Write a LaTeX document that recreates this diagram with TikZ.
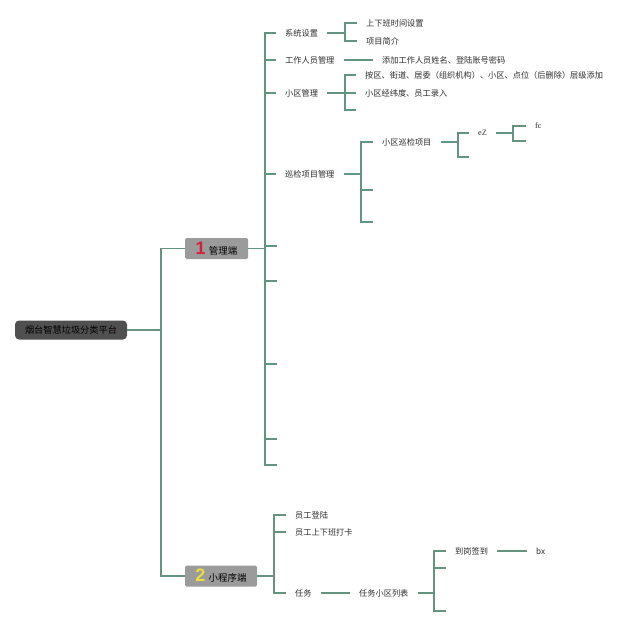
\documentclass[tikz,border=0pt]{standalone}
\usepackage{fontspec}
\newfontfamily\cjk{Noto Sans CJK SC}
\newfontfamily\numfont{Liberation Sans}
\newfontfamily\latinserif{Liberation Serif}
\definecolor{linkcolor}{RGB}{98,148,128}
\definecolor{rootfill}{RGB}{80,80,80}
\definecolor{boxfill}{RGB}{155,155,155}
\definecolor{txtcolor}{RGB}{45,45,45}
\definecolor{numred}{RGB}{215,30,60}
\definecolor{numyellow}{RGB}{238,222,60}

\begin{document}
\begin{tikzpicture}[x=1pt,y=-1pt,
  link/.style={linkcolor,line width=1.2pt},
  leaf/.style={anchor=west,inner xsep=9pt,inner ysep=1pt,text=txtcolor,font=\cjk\fontsize{8.2}{10}\selectfont},
  hub/.style={fill=boxfill,rounded corners=1.5pt,minimum height=21pt,inner sep=0pt,text=black,font=\cjk\fontsize{9.5}{11}\selectfont},
  rootbox/.style={fill=rootfill,rounded corners=4pt,minimum width=112pt,minimum height=19pt,inner sep=0pt,text=black,font=\cjk\fontsize{9.2}{11}\selectfont}]
  \useasboundingbox[fill=white] (0,0) rectangle (640,626);
  \node[rootbox] (root) at (71,330) {烟台智慧垃圾分类平台};
  \node[hub,minimum width=63pt] (mgr) at (216.5,248.5)
    {{\numfont\bfseries\fontsize{18}{18}\selectfont\color{numred}1}\hspace{3pt}管理端};
  \node[hub,minimum width=72pt] (app) at (221,576)
    {{\numfont\bfseries\fontsize{18}{18}\selectfont\color{numyellow}2}\hspace{3pt}小程序端};
  \coordinate (b0) at (161,330);
  \draw[link] (root.east) -- (b0);
  \foreach \c in {mgr,app} \draw[link] (b0) |- (\c.west);

  % 管理端
  \coordinate (b1) at (265,248.5);
  \draw[link] (mgr.east) -- (b1);
  \node[leaf] (sys) at (276,33) {系统设置};
  \node[leaf] (staff) at (276,60) {工作人员管理};
  \node[leaf] (area) at (276,93) {小区管理};
  \node[leaf] (patrol) at (276,174) {巡检项目管理};
  \foreach \c/\y in {m5/246,m6/281,m7/364,m8/439,m9/465} \coordinate (\c) at (277,\y);
  \foreach \c in {sys,staff,area,patrol} \draw[link] (b1) |- (\c.west);
  \foreach \c in {m5,m6,m7,m8,m9} \draw[link] (b1) |- (\c);

  \coordinate (b2) at (345,33);
  \draw[link] (sys.east) -- (b2);
  \node[leaf] (s1) at (357,23) {上下班时间设置};
  \node[leaf] (s2) at (357,41) {项目简介};
  \foreach \c in {s1,s2} \draw[link] (b2) |- (\c.west);

  \node[leaf] (st1) at (373,60) {添加工作人员姓名、登陆账号密码};
  \draw[link] (staff.east) -- (st1.west);

  \coordinate (b3) at (345,93);
  \draw[link] (area.east) -- (b3);
  \node[leaf] (a1) at (356,75) {按区、街道、居委（组织机构）、小区、点位（后删除）层级添加};
  \node[leaf] (a2) at (356,93) {小区经纬度、员工录入};
  \coordinate (a3) at (356,110);
  \foreach \c in {a1,a2} \draw[link] (b3) |- (\c.west);
  \draw[link] (b3) |- (a3);

  \coordinate (b4) at (361,174);
  \draw[link] (patrol.east) -- (b4);
  \node[leaf] (p1) at (373,142) {小区巡检项目};
  \coordinate (p2) at (373,190);
  \coordinate (p3) at (373,222);
  \draw[link] (b4) |- (p1.west);
  \foreach \c in {p2,p3} \draw[link] (b4) |- (\c);

  \coordinate (b5) at (458,142);
  \draw[link] (p1.east) -- (b5);
  \node[leaf,font=\latinserif\fontsize{8.2}{10}\selectfont] (ez) at (469,133) {eZ};
  \coordinate (ez2) at (469,157);
  \draw[link] (b5) |- (ez.west);
  \draw[link] (b5) |- (ez2);

  \coordinate (b6) at (513,133);
  \draw[link] (ez.east) -- (b6);
  \node[leaf,font=\latinserif\fontsize{8.2}{10}\selectfont] (fc) at (526,126) {fc};
  \coordinate (fc2) at (526,141);
  \draw[link] (b6) |- (fc.west);
  \draw[link] (b6) |- (fc2);

  % 小程序端
  \coordinate (b7) at (274,576);
  \draw[link] (app.east) -- (b7);
  \node[leaf] (login) at (286,515) {员工登陆};
  \node[leaf] (clock) at (286,532) {员工上下班打卡};
  \node[leaf] (task) at (286,593) {任务};
  \foreach \c in {login,clock,task} \draw[link] (b7) |- (\c.west);

  \node[leaf] (tlist) at (350,593) {任务小区列表};
  \draw[link] (task.east) -- (tlist.west);

  \coordinate (b8) at (434,593);
  \draw[link] (tlist.east) -- (b8);
  \node[leaf] (sign) at (446,551) {到岗签到};
  \coordinate (g2) at (446,568);
  \coordinate (g3) at (446,611);
  \draw[link] (b8) |- (sign.west);
  \foreach \c in {g2,g3} \draw[link] (b8) |- (\c);

  \node[leaf] (bx) at (527,551) {bx};
  \draw[link] (sign.east) -- (bx.west);
\end{tikzpicture}
\end{document}
